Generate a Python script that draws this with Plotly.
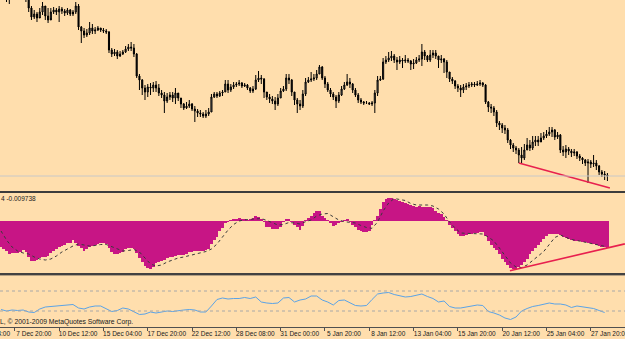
import plotly.graph_objects as go

W, H = 625, 339

# ---------------- main price panel (EURUSD H4, bar index 0..219) ----------------
first_open = 1.5175
close = [
 1.5160,1.5150,1.5130,1.5120,1.5135,1.5145,1.5140,1.5150,1.5130,1.5115,
 1.5060,1.5015,1.5030,1.5010,1.5040,1.5070,1.5020,1.5000,1.5040,1.5050,
 1.5040,1.5055,1.5045,1.5035,1.5050,1.5030,1.5040,1.5070,1.4965,1.4945,
 1.4925,1.4935,1.4960,1.4945,1.4950,1.4960,1.4950,1.4945,1.4940,1.4850,
 1.4830,1.4840,1.4820,1.4830,1.4840,1.4855,1.4865,1.4860,1.4830,1.4720,
 1.4700,1.4660,1.4640,1.4665,1.4660,1.4675,1.4660,1.4635,1.4625,1.4595,
 1.4615,1.4625,1.4610,1.4635,1.4610,1.4580,1.4560,1.4570,1.4580,1.4555,
 1.4545,1.4535,1.4530,1.4520,1.4530,1.4540,1.4615,1.4630,1.4620,1.4635,
 1.4640,1.4680,1.4650,1.4665,1.4675,1.4680,1.4685,1.4670,1.4675,1.4660,
 1.4645,1.4655,1.4700,1.4710,1.4705,1.4640,1.4615,1.4605,1.4595,1.4580,
 1.4610,1.4645,1.4655,1.4710,1.4700,1.4640,1.4600,1.4580,1.4570,1.4630,
 1.4690,1.4700,1.4705,1.4710,1.4730,1.4765,1.4710,1.4680,1.4650,1.4630,
 1.4615,1.4595,1.4625,1.4655,1.4675,1.4690,1.4680,1.4650,1.4625,1.4600,
 1.4590,1.4585,1.4585,1.4580,1.4585,1.4635,1.4700,1.4705,1.4790,1.4800,
 1.4810,1.4820,1.4800,1.4790,1.4800,1.4795,1.4800,1.4795,1.4780,1.4785,
 1.4800,1.4805,1.4840,1.4820,1.4800,1.4825,1.4835,1.4820,1.4800,1.4805,
 1.4790,1.4740,1.4705,1.4695,1.4670,1.4660,1.4650,1.4665,1.4670,1.4675,
 1.4680,1.4675,1.4680,1.4685,1.4675,1.4590,1.4565,1.4560,1.4540,1.4485,
 1.4475,1.4460,1.4450,1.4400,1.4375,1.4360,1.4350,1.4325,1.4310,1.4350,
 1.4375,1.4360,1.4390,1.4400,1.4390,1.4410,1.4420,1.4430,1.4440,1.4450,
 1.4415,1.4425,1.4350,1.4340,1.4355,1.4345,1.4335,1.4340,1.4320,1.4310,
 1.4300,1.4285,1.4290,1.4280,1.4285,1.4270,1.4240,1.4230,1.4225,1.4220]
high = [
 1.5190,1.5175,1.5165,1.5145,1.5160,1.5170,1.5165,1.5175,1.5160,1.5140,
 1.5115,1.5070,1.5050,1.5040,1.5060,1.5090,1.5065,1.5060,1.5060,1.5065,
 1.5060,1.5070,1.5065,1.5055,1.5060,1.5055,1.5050,1.5090,1.5080,1.4970,
 1.4960,1.4955,1.4990,1.4980,1.4965,1.4970,1.4960,1.4960,1.4955,1.4945,
 1.4860,1.4855,1.4850,1.4845,1.4850,1.4870,1.4880,1.4890,1.4880,1.4835,
 1.4730,1.4705,1.4675,1.4680,1.4685,1.4690,1.4695,1.4680,1.4650,1.4640,
 1.4635,1.4640,1.4640,1.4660,1.4625,1.4610,1.4585,1.4590,1.4600,1.4585,
 1.4570,1.4555,1.4550,1.4540,1.4550,1.4560,1.4630,1.4640,1.4640,1.4645,
 1.4650,1.4700,1.4700,1.4680,1.4690,1.4690,1.4700,1.4690,1.4685,1.4680,
 1.4665,1.4670,1.4725,1.4745,1.4725,1.4710,1.4635,1.4630,1.4620,1.4615,
 1.4630,1.4660,1.4670,1.4730,1.4730,1.4705,1.4640,1.4610,1.4600,1.4650,
 1.4710,1.4715,1.4740,1.4730,1.4750,1.4775,1.4770,1.4720,1.4690,1.4660,
 1.4640,1.4625,1.4640,1.4670,1.4690,1.4730,1.4710,1.4685,1.4660,1.4635,
 1.4610,1.4595,1.4595,1.4590,1.4595,1.4650,1.4720,1.4720,1.4810,1.4820,
 1.4840,1.4845,1.4830,1.4815,1.4820,1.4810,1.4825,1.4810,1.4800,1.4805,
 1.4815,1.4825,1.4880,1.4850,1.4825,1.4850,1.4850,1.4850,1.4820,1.4825,
 1.4810,1.4800,1.4730,1.4715,1.4700,1.4680,1.4675,1.4680,1.4685,1.4690,
 1.4690,1.4690,1.4695,1.4700,1.4690,1.4680,1.4595,1.4580,1.4570,1.4550,
 1.4495,1.4485,1.4475,1.4460,1.4405,1.4385,1.4370,1.4360,1.4365,1.4380,
 1.4410,1.4400,1.4420,1.4420,1.4420,1.4435,1.4440,1.4450,1.4465,1.4465,
 1.4455,1.4440,1.4430,1.4370,1.4375,1.4365,1.4355,1.4355,1.4345,1.4330,
 1.4315,1.4305,1.4305,1.4300,1.4325,1.4300,1.4275,1.4250,1.4245,1.4235]
low = [
 1.5130,1.5120,1.5090,1.5080,1.5100,1.5115,1.5110,1.5120,1.5105,1.5090,
 1.5040,1.5000,1.5005,1.4990,1.5015,1.5025,1.5000,1.4985,1.5010,1.5030,
 1.5025,1.4990,1.5030,1.5020,1.5025,1.5020,1.5020,1.5030,1.4950,1.4885,
 1.4910,1.4915,1.4925,1.4930,1.4930,1.4945,1.4940,1.4935,1.4930,1.4835,
 1.4815,1.4820,1.4805,1.4815,1.4825,1.4835,1.4845,1.4845,1.4815,1.4710,
 1.4650,1.4625,1.4600,1.4615,1.4625,1.4640,1.4640,1.4620,1.4610,1.4535,
 1.4585,1.4600,1.4590,1.4580,1.4595,1.4560,1.4550,1.4555,1.4560,1.4545,
 1.4490,1.4515,1.4515,1.4510,1.4510,1.4520,1.4540,1.4610,1.4610,1.4615,
 1.4620,1.4640,1.4635,1.4640,1.4655,1.4665,1.4670,1.4660,1.4665,1.4650,
 1.4635,1.4635,1.4650,1.4690,1.4680,1.4610,1.4600,1.4585,1.4580,1.4550,
 1.4570,1.4610,1.4640,1.4645,1.4680,1.4620,1.4575,1.4535,1.4550,1.4560,
 1.4620,1.4685,1.4690,1.4695,1.4700,1.4730,1.4700,1.4660,1.4640,1.4615,
 1.4600,1.4560,1.4585,1.4620,1.4650,1.4670,1.4660,1.4635,1.4615,1.4585,
 1.4580,1.4575,1.4580,1.4575,1.4570,1.4535,1.4620,1.4695,1.4700,1.4780,
 1.4790,1.4795,1.4785,1.4750,1.4780,1.4760,1.4785,1.4785,1.4750,1.4755,
 1.4780,1.4790,1.4770,1.4800,1.4790,1.4790,1.4810,1.4805,1.4760,1.4785,
 1.4735,1.4710,1.4690,1.4680,1.4655,1.4640,1.4615,1.4635,1.4650,1.4660,
 1.4665,1.4665,1.4670,1.4670,1.4665,1.4580,1.4540,1.4535,1.4520,1.4465,
 1.4450,1.4435,1.4430,1.4385,1.4355,1.4340,1.4330,1.4285,1.4285,1.4300,
 1.4350,1.4345,1.4350,1.4370,1.4370,1.4390,1.4400,1.4410,1.4420,1.4415,
 1.4400,1.4405,1.4335,1.4320,1.4310,1.4325,1.4315,1.4320,1.4305,1.4295,
 1.4280,1.4270,1.4185,1.4260,1.4265,1.4250,1.4225,1.4215,1.4200,1.4195]

trend_main_bar = [187, 219.9]
trend_main_price = [1.4285, 1.4160]

# ---------------- OsMA panel (values in units of 1e-4) ----------------
osma_e4 = [
 -93.6,-99.0,-106.2,-117.0,-115.2,-114.1,-113.4,-109.8,-102.6,-111.6,
 -129.6,-142.2,-144.0,-140.4,-131.4,-130.7,-130.7,-126.0,-115.2,-106.2,
 -100.8,-93.6,-88.2,-84.6,-80.3,-79.2,-68.4,-79.2,-88.2,-97.2,
 -106.2,-99.0,-93.6,-90.0,-86.4,-81.0,-78.5,-80.3,-81.0,-95.4,
 -109.8,-117.0,-118.8,-114.1,-110.9,-100.8,-96.1,-96.1,-100.8,-113.4,
 -131.4,-147.6,-160.2,-168.5,-172.8,-165.6,-151.2,-146.5,-144.0,-138.6,
 -134.3,-130.7,-128.9,-124.9,-122.4,-122.4,-121.3,-118.8,-112.7,-110.5,
 -109.1,-108.0,-108.0,-108.0,-105.5,-99.0,-82.8,-68.4,-56.5,-34.2,
 -23.4,-7.2,-1.8,1.8,7.2,9.0,9.7,7.9,5.4,3.6,
 6.1,9.7,18.0,16.2,5.4,-3.6,-19.8,-22.7,-28.8,-29.9,
 -28.8,-21.6,-1.8,9.0,7.2,-1.8,-12.6,-21.6,-32.4,-16.2,
 0.4,10.8,19.8,30.6,37.8,36.0,19.8,10.8,1.8,-7.2,
 -17.3,-13.3,-8.3,-1.8,3.6,6.1,-2.5,-12.6,-21.6,-30.6,
 -36.0,-38.5,-38.5,-34.2,-14.4,3.6,19.8,43.2,70.2,79.2,
 83.9,83.9,79.2,75.6,73.8,70.2,65.9,61.2,56.5,54.0,
 52.2,53.3,50.4,49.3,49.7,51.1,45.7,37.8,30.6,25.2,
 16.2,3.6,-12.6,-25.2,-34.2,-45.0,-54.0,-53.3,-51.1,-47.9,
 -45.7,-43.2,-41.4,-38.5,-38.5,-54.0,-70.2,-86.4,-95.4,-104.4,
 -118.8,-135.0,-145.8,-158.4,-167.4,-173.5,-171.4,-165.6,-158.4,-145.8,
 -135.0,-118.8,-108.0,-98.3,-86.4,-73.8,-63.0,-55.1,-47.9,-46.8,
 -46.8,-47.5,-51.1,-56.9,-60.5,-65.5,-69.5,-71.3,-72.0,-72.0,
 -73.8,-76.3,-79.2,-80.3,-83.5,-85.7,-88.9,-91.8,-94.3,-97.38]

# signal line, one reading every second bar (bars 0,2,...,218), units 1e-4
signal_e4 = [
 -36.0,-68.4,-93.6,-108.0,-115.2,-118.8,-129.6,-136.8,-140.4,-136.8,
 -126.0,-111.6,-100.8,-90.0,-82.8,-86.4,-90.0,-88.2,-84.6,-84.6,
 -91.8,-100.8,-108.0,-106.2,-102.6,-111.6,-133.2,-154.8,-162.0,-158.4,
 -147.6,-140.4,-133.2,-129.6,-124.2,-118.8,-115.2,-109.8,-100.8,-82.8,
 -57.6,-32.4,-12.6,0.0,4.3,5.4,7.2,9.0,1.8,-7.2,
 -14.4,-12.6,-5.4,-7.2,-10.8,-2.5,3.6,18.0,25.2,27.0,
 14.4,3.6,-2.5,-5.4,-7.2,-16.2,-23.4,-26.3,-3.6,36.0,
 64.8,81.0,78.1,73.8,63.0,57.6,57.6,57.6,54.0,43.2,
 25.2,-3.6,-25.2,-43.2,-44.3,-44.3,-44.3,-46.8,-57.6,-72.0,
 -97.2,-126.0,-151.2,-165.6,-167.4,-158.4,-142.2,-127.8,-109.8,-84.6,
 -59.4,-50.4,-59.4,-66.6,-70.2,-74.5,-77.4,-81.0,-86.4,-91.1]
signal_bar = list(range(0, 220, 2))

trend_osma_bar = [183.8, 225.3]
trend_osma_val = [-0.01789, -0.00824]
osma_caption = "4 -0.009738"

# ---------------- lower oscillator panel (blue line, every second bar) ----------------
osc_vals = [
 33,30,32,31,32,28,27,34,38,39,
 40,40,41,43,36,34,38,40,40,35,
 29,31,36,34,28,23,24,28,26,28,
 30,29,31,32,33,32,28,28,40,53,
 56,54,55,55,57,55,58,48,46,45,
 46,56,57,48,52,54,60,60,52,48,
 42,51,52,47,41,40,41,53,64,66,
 67,63,60,58,59,62,64,59,55,48,
 50,39,36,36,38,40,42,41,29,26,
 22,16,13,18,30,35,39,41,44,46,
 44,44,42,37,40,38,37,35,31,27]
osc_levels = [70, 30]

# ---------------- time axis ----------------
tick_bar = [5, 21, 37, 53, 69, 85, 101, 117, 133, 149, 165, 181, 197, 213]
tick_labels = ["7 Dec 20:00", "10 Dec 12:00", "15 Dec 04:00", "17 Dec 20:00",
               "22 Dec 12:00", "28 Dec 08:00", "31 Dec 00:00", "5 Jan 20:00",
               "8 Jan 12:00", "13 Jan 04:00", "15 Jan 20:00", "20 Jan 12:00",
               "25 Jan 04:00", "27 Jan 20:00"]
prev_label_bar = -11
prev_label = "3 Dec 04:00"
copyright_text = "L, \u00a9 2001-2009 MetaQuotes Software Corp."

# ---------------- styling ----------------
BG = "#FFDEAD"
MAGENTA = "#C71585"
RED = "#E8204E"
BLUE = "#5BA3E6"
FONT = "Liberation Sans"
TXT = "#202020"
FS = 6.5
bars = list(range(len(close)))
opens = [first_open] + close[:-1]
xr = [-0.36, 225.35]

def py(px):
    return 1 - px / H

fig = go.Figure()
fig.add_trace(go.Candlestick(
    x=bars, open=opens, high=high, low=low, close=close,
    increasing=dict(line=dict(color="#000000", width=1), fillcolor="#8C8C8C"),
    decreasing=dict(line=dict(color="#000000", width=1), fillcolor="#000000"),
    whiskerwidth=0, xaxis="x", yaxis="y", showlegend=False, hoverinfo="skip"))
fig.add_trace(go.Scatter(x=trend_main_bar, y=trend_main_price, mode="lines",
    line=dict(color=RED, width=1.6), xaxis="x", yaxis="y", showlegend=False))

fig.add_trace(go.Bar(x=bars, y=[v * 1e-4 for v in osma_e4], width=1.0,
    marker=dict(color=MAGENTA, line=dict(width=0)), xaxis="x2", yaxis="y2",
    showlegend=False))
fig.add_trace(go.Scatter(x=signal_bar, y=[v * 1e-4 for v in signal_e4], mode="lines",
    line=dict(color="#3A3A3A", width=1, dash="dot"), xaxis="x2", yaxis="y2",
    showlegend=False))
fig.add_trace(go.Scatter(x=trend_osma_bar, y=trend_osma_val, mode="lines",
    line=dict(color=RED, width=1.6), xaxis="x2", yaxis="y2", showlegend=False))

fig.add_trace(go.Scatter(x=signal_bar, y=osc_vals, mode="lines",
    line=dict(color=BLUE, width=1), xaxis="x3", yaxis="y3", showlegend=False))

shapes = []
# panel separators
shapes.append(dict(type="rect", xref="paper", yref="paper", x0=0, x1=1,
                   y0=py(193), y1=py(191), fillcolor="#3C3C3C", line=dict(width=0)))
shapes.append(dict(type="rect", xref="paper", yref="paper", x0=0, x1=1,
                   y0=py(275), y1=py(273), fillcolor="#424242", line=dict(width=0)))
shapes.append(dict(type="rect", xref="paper", yref="paper", x0=0, x1=1,
                   y0=py(276), y1=py(275), fillcolor="#B4A084", line=dict(width=0)))
# bid line
shapes.append(dict(type="line", xref="paper", yref="y", x0=0, x1=1,
                   y0=close[-1], y1=close[-1], line=dict(color="#C8C8C8", width=1)))
# oscillator levels
for lv in osc_levels:
    shapes.append(dict(type="line", xref="paper", yref="y3", x0=0, x1=1, y0=lv, y1=lv,
                       line=dict(color="#A8A8A8", width=1, dash="dot")))

annotations = [
    dict(text=osma_caption, xref="paper", yref="paper", x=-0.002, y=py(198),
         xanchor="left", yanchor="middle", showarrow=False,
         font=dict(family=FONT, size=FS, color=TXT)),
    dict(text=copyright_text, xref="paper", yref="paper", x=-0.004, y=py(322),
         xanchor="left", yanchor="middle", showarrow=False,
         font=dict(family=FONT, size=6.8, color=TXT)),
    dict(text=prev_label, xref="paper", yref="paper",
         x=(prev_label_bar - xr[0]) / (xr[1] - xr[0]) + 2.0 / W, y=py(333),
         xanchor="left", yanchor="middle", showarrow=False,
         font=dict(family=FONT, size=FS, color=TXT)),
]

axis_off = dict(showgrid=False, zeroline=False, showticklabels=False, ticks="",
                showline=False, automargin=False)
fig.update_layout(
    width=W, height=H, margin=dict(l=0, r=0, t=0, b=0, autoexpand=False),
    paper_bgcolor=BG, plot_bgcolor=BG, bargap=0, boxgap=0.45,
    showlegend=False, hovermode=False,
    xaxis=dict(domain=[0, 1], anchor="y", range=xr, rangeslider=dict(visible=False), **axis_off),
    xaxis2=dict(domain=[0, 1], anchor="y2", range=xr, matches="x", **axis_off),
    xaxis3=dict(domain=[0, 1], anchor="y3", range=xr, matches="x", automargin=False,
                showgrid=False, zeroline=False, showline=True, linecolor="#505050", linewidth=1,
                ticks="outside", ticklen=3, tickwidth=1, tickcolor="#505050",
                tickmode="array", tickvals=tick_bar, ticktext=tick_labels, tickangle=0,
                ticklabelshift=19, ticklabelstandoff=-3, ticklabeloverflow="allow",
                tickfont=dict(family=FONT, size=FS, color=TXT)),
    yaxis=dict(domain=[py(190), 1], anchor="x", range=[1.4150, 1.5100], **axis_off),
    yaxis2=dict(domain=[py(272), py(193)], anchor="x2", range=[-0.01836, 0.01008], **axis_off),
    yaxis3=dict(domain=[py(327), py(276)], anchor="x3", range=[-2, 100], **axis_off),
    shapes=shapes, annotations=annotations,
)

fig.write_html("out.html", config={"displayModeBar": False})
